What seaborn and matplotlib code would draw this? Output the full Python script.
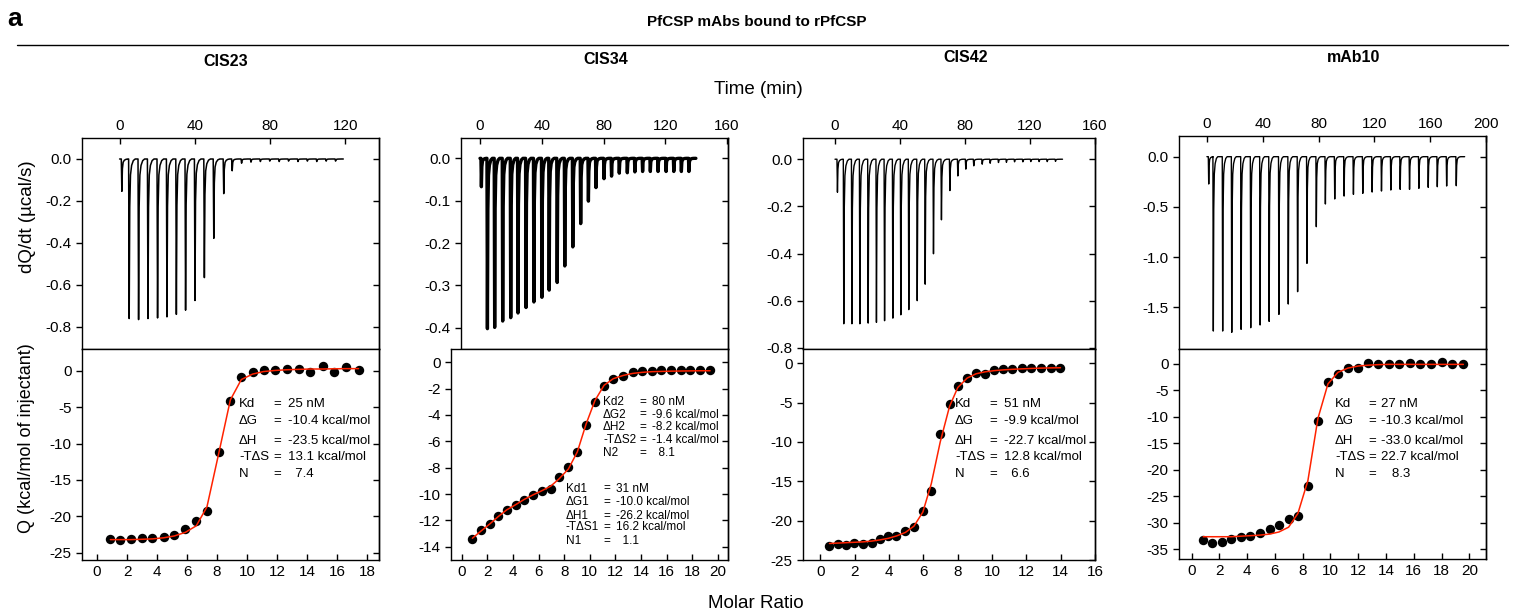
import matplotlib
matplotlib.use('Agg')
import matplotlib.pyplot as plt
from matplotlib.lines import Line2D
import seaborn as sns
import pandas as pd

W, H = 1514, 615

# ---- raw thermograms: injection time (min) and peak depth (ucal/s)
cis23_inj_t = [0.9, 4.8, 9.8, 14.8, 19.9, 24.9, 29.9, 34.8, 39.8, 44.8, 49.8, 55.1,
               59.6, 64.6, 69.6, 74.6, 79.6, 84.6, 89.6, 94.6, 99.6, 104.6, 109.6, 114.6]
cis23_inj_peak = [-0.154, -0.76, -0.765, -0.76, -0.757, -0.752, -0.74, -0.72, -0.674, -0.565,
                  -0.378, -0.165, -0.056, -0.02, -0.015, -0.012, -0.01, -0.012, -0.01, -0.012,
                  -0.01, -0.012, -0.01, -0.01]

cis34_inj_t = [0.6, 4.5, 9.2, 14.4, 19.6, 24.3, 29.5, 34.6, 39.8, 44.5, 49.7, 54.6, 59.8, 64.9,
               69.9, 74.8, 80.0, 84.9, 89.9, 95.1, 100.0, 105.0, 110.0, 115.0, 120.2, 125.2,
               130.1, 135.0]
cis34_inj_peak = [-0.067, -0.402, -0.399, -0.384, -0.376, -0.365, -0.352, -0.339, -0.328, -0.311,
                  -0.293, -0.254, -0.209, -0.154, -0.101, -0.069, -0.048, -0.042, -0.035, -0.034,
                  -0.032, -0.031, -0.031, -0.031, -0.031, -0.031, -0.031, -0.031]

cis42_inj_t = [1.2, 5.1, 10.1, 15.0, 20.1, 25.2, 30.2, 35.3, 40.2, 45.1, 50.3, 55.2, 60.3, 65.2,
               70.4, 75.3, 80.2, 85.1, 90.3, 95.2, 100.3, 105.2, 110.2, 115.3, 120.2, 125.3,
               130.3, 135.4]
cis42_inj_peak = [-0.14, -0.698, -0.698, -0.698, -0.695, -0.692, -0.685, -0.674, -0.66, -0.638,
                  -0.6, -0.53, -0.401, -0.257, -0.133, -0.071, -0.042, -0.028, -0.021, -0.017,
                  -0.014, -0.013, -0.011, -0.011, -0.01, -0.01, -0.01, -0.009]

mab10_inj_t = [1.0, 4.3, 11.0, 17.5, 24.2, 31.1, 37.8, 44.3, 51.3, 58.0, 64.7, 71.4, 78.1, 84.6,
               91.3, 98.0, 104.7, 111.4, 118.1, 124.8, 131.5, 138.2, 144.9, 151.6, 158.3, 164.8,
               171.5, 178.4]
mab10_inj_peak = [-0.272, -1.736, -1.736, -1.749, -1.719, -1.703, -1.676, -1.64, -1.57, -1.467,
                  -1.344, -1.062, -0.697, -0.471, -0.421, -0.392, -0.375, -0.365, -0.352, -0.342,
                  -0.332, -0.325, -0.325, -0.315, -0.305, -0.299, -0.292, -0.289]

# ---- integrated heats: molar ratio, Q (kcal/mol), fitted Q
cis23_ratio = [0.89, 1.55, 2.27, 3.0, 3.69, 4.44, 5.15, 5.89, 6.62, 7.33, 8.11, 8.89, 9.62,
               10.37, 11.1, 11.87, 12.67, 13.44, 14.2, 15.04, 15.82, 16.6, 17.44]
cis23_q = [-23.1, -23.3, -23.1, -23.0, -23.0, -22.8, -22.6, -21.8, -20.6, -19.2, -11.1, -4.2,
           -0.8, -0.2, 0.1, 0.1, 0.2, 0.2, -0.1, 0.6, -0.1, 0.55, 0.1]
cis23_fit = [-23.2, -23.2, -23.2, -23.15, -23.1, -22.95, -22.7, -22.2, -21.3, -18.7, -11.4, -4.0,
             -1.2, -0.45, -0.1, 0.05, 0.15, 0.2, 0.25, 0.25, 0.28, 0.3, 0.3]

cis34_ratio = [0.83, 1.51, 2.21, 2.86, 3.51, 4.22, 4.89, 5.59, 6.25, 6.95, 7.6, 8.33, 9.03, 9.71,
               10.41, 11.12, 11.84, 12.63, 13.36, 14.1, 14.85, 15.57, 16.33, 17.1, 17.85, 18.6, 19.4]
cis34_q = [-13.4, -12.76, -12.25, -11.64, -11.19, -10.81, -10.43, -10.05, -9.8, -9.62, -8.74,
           -7.98, -6.82, -4.8, -3.03, -1.8, -1.29, -1.04, -0.76, -0.7, -0.66, -0.63, -0.63, -0.6,
           -0.6, -0.58, -0.6]
cis34_fit = [-13.35, -12.8, -12.25, -11.7, -11.2, -10.8, -10.4, -10.05, -9.75, -9.4, -8.85, -8.1,
             -6.8, -4.7, -2.9, -1.75, -1.25, -1.0, -0.85, -0.77, -0.72, -0.7, -0.68, -0.67, -0.66,
             -0.65, -0.65]

cis42_ratio = [0.54, 1.02, 1.51, 1.99, 2.47, 2.99, 3.47, 3.96, 4.44, 4.96, 5.46, 5.98, 6.47, 6.99,
               7.53, 8.01, 8.55, 9.07, 9.6, 10.13, 10.67, 11.19, 11.77, 12.3, 12.83, 13.41, 13.99]
cis42_q = [-23.2, -23.0, -23.1, -22.9, -22.95, -22.8, -22.3, -22.0, -21.9, -21.3, -20.8, -18.75,
           -16.2, -9.0, -5.2, -2.84, -1.9, -1.27, -1.4, -0.85, -0.72, -0.72, -0.64, -0.55, -0.55,
           -0.55, -0.55]
cis42_fit = [-22.9, -22.85, -22.8, -22.75, -22.7, -22.6, -22.45, -22.25, -21.95, -21.5, -20.7,
             -18.9, -15.3, -10.0, -5.5, -3.1, -1.9, -1.35, -1.1, -0.95, -0.85, -0.78, -0.72, -0.67,
             -0.63, -0.6, -0.58]

mab10_ratio = [0.84, 1.51, 2.16, 2.87, 3.54, 4.24, 4.91, 5.63, 6.3, 6.99, 7.66, 8.38, 9.1, 9.82,
               10.54, 11.26, 12.02, 12.74, 13.46, 14.2, 14.97, 15.74, 16.48, 17.25, 18.0, 18.75, 19.57]
mab10_q = [-33.3, -33.8, -33.6, -33.1, -32.7, -32.4, -31.9, -31.1, -30.4, -29.3, -28.6, -23.1,
           -10.7, -3.5, -1.9, -0.7, -0.7, 0.1, -0.06, -0.06, 0.0, 0.1, 0.0, -0.06, 0.3, 0.06, -0.06]
mab10_fit = [-32.6, -32.6, -32.6, -32.6, -32.5, -32.4, -32.3, -32.1, -31.7, -30.8, -28.2, -22.0,
             -10.3, -3.8, -1.6, -0.8, -0.4, -0.25, -0.15, -0.1, -0.1, -0.1, -0.1, -0.1, -0.1,
             -0.1, -0.1]

names = ['CIS23', 'CIS34', 'CIS42', 'mAb10']

cis23_params = [('Kd', '25 nM'), ('\u0394G', '-10.4 kcal/mol'), ('\u0394H', '-23.5 kcal/mol'),
                ('-T\u0394S', '13.1 kcal/mol'), ('N', '  7.4')]
cis34_params2 = [('Kd2', '80 nM'), ('\u0394G2', '-9.6 kcal/mol'), ('\u0394H2', '-8.2 kcal/mol'),
                 ('-T\u0394S2', '-1.4 kcal/mol'), ('N2', '  8.1')]
cis34_params1 = [('Kd1', '31 nM'), ('\u0394G1', '-10.0 kcal/mol'), ('\u0394H1', '-26.2 kcal/mol'),
                 ('-T\u0394S1', '16.2 kcal/mol'), ('N1', '  1.1')]
cis42_params = [('Kd', '51 nM'), ('\u0394G', '-9.9 kcal/mol'), ('\u0394H', '-22.7 kcal/mol'),
                ('-T\u0394S', '12.8 kcal/mol'), ('N', '  6.6')]
mab10_params = [('Kd', '27 nM'), ('\u0394G', '-10.3 kcal/mol'), ('\u0394H', '-33.0 kcal/mol'),
                ('-T\u0394S', '22.7 kcal/mol'), ('N', '   8.3')]

# spike template (offset in min, fraction of peak depth)
SHAPE_DT = [0.0, 0.3, 0.6, 1.0, 1.6, 2.5, 3.5]
SHAPE_FR = [0.0, 1.0, 0.3, 0.1, 0.04, 0.01, 0.0]


def thermogram(times, peaks, t_end):
    ts, ys = [0.0], [0.0]
    for t, p in zip(times, peaks):
        for dt, fr in zip(SHAPE_DT, SHAPE_FR):
            ts.append(t + dt)
            ys.append(p * fr)
    ts.append(t_end)
    ys.append(0.0)
    return pd.DataFrame({'t': ts, 'y': ys})


def px_axes(fig, left, right, top, bottom):
    return fig.add_axes([left / W, 1 - bottom / H, (right - left) / W, (bottom - top) / H])


def ftext(fig, x, y, s, **kw):
    kw.setdefault('va', 'center')
    kw.setdefault('color', 'black')
    fig.text(x / W, 1 - y / H, s, **kw)


sns.set_style('ticks')
plt.rcParams['font.family'] = ['Liberation Sans', 'DejaVu Sans']
plt.rcParams['axes.unicode_minus'] = False
plt.rcParams['axes.linewidth'] = 1.0
plt.rcParams['axes.edgecolor'] = 'black'
plt.rcParams['text.color'] = 'black'
plt.rcParams['xtick.color'] = 'black'
plt.rcParams['ytick.color'] = 'black'

fig = plt.figure(figsize=(W / 100, H / 100), dpi=100)

panels = [
    dict(top=(82, 379, 138, 349), bot=(82, 379, 349, 560),
         inj=(cis23_inj_t, cis23_inj_peak, 119), lw=1.1,
         txlim=(-20, 138), txt=[0, 40, 80, 120], tylim=(-0.905, 0.1),
         tyt=[0.0, -0.2, -0.4, -0.6, -0.8], fmt='{:.1f}',
         iso=(cis23_ratio, cis23_q, cis23_fit),
         bxlim=(-1, 18.8), bxt=list(range(0, 19, 2)), bylim=(-26, 3),
         byt=[0, -5, -10, -15, -20, -25]),
    dict(top=(461, 728, 138, 349), bot=(451, 728, 349, 560),
         inj=(cis34_inj_t, cis34_inj_peak, 139.8), lw=2.4,
         txlim=(-12.3, 160.6), txt=[0, 40, 80, 120, 160], tylim=(-0.45, 0.048),
         tyt=[0.0, -0.1, -0.2, -0.3, -0.4], fmt='{:.1f}',
         iso=(cis34_ratio, cis34_q, cis34_fit),
         bxlim=(-0.84, 20.8), bxt=list(range(0, 21, 2)), bylim=(-15, 1),
         byt=list(range(0, -15, -2))),
    dict(top=(803, 1095, 138, 349), bot=(803, 1095, 349, 560),
         inj=(cis42_inj_t, cis42_inj_peak, 140), lw=1.0,
         txlim=(-19.7, 160), txt=[0, 40, 80, 120, 160], tylim=(-0.805, 0.09),
         tyt=[0.0, -0.2, -0.4, -0.6, -0.8], fmt='{:.1f}',
         iso=(cis42_ratio, cis42_q, cis42_fit),
         bxlim=(-1, 16), bxt=list(range(0, 17, 2)), bylim=(-25, 1.8),
         byt=[0, -5, -10, -15, -20, -25]),
    dict(top=(1179, 1486, 136, 349), bot=(1179, 1486, 349, 559),
         inj=(mab10_inj_t, mab10_inj_peak, 184.7), lw=1.0,
         txlim=(-20, 200), txt=[0, 40, 80, 120, 160, 200], tylim=(-1.915, 0.206),
         tyt=[0.0, -0.5, -1.0, -1.5], fmt='{:.1f}',
         iso=(mab10_ratio, mab10_q, mab10_fit),
         bxlim=(-0.9, 21.2), bxt=list(range(0, 21, 2)), bylim=(-36.8, 2.8),
         byt=[0, -5, -10, -15, -20, -25, -30, -35]),
]

TICK = dict(length=4, width=1, labelsize=11, colors='black')

for p in panels:
    # thermogram
    ax = px_axes(fig, *p['top'])
    df = thermogram(*p['inj'])
    sns.lineplot(data=df, x='t', y='y', sort=False, estimator=None, color='black',
                 lw=p['lw'], ax=ax)
    ax.set_xlim(*p['txlim'])
    ax.set_ylim(*p['tylim'])
    ax.set_xticks(p['txt'])
    ax.set_yticks(p['tyt'])
    ax.set_yticklabels([p['fmt'].format(v) for v in p['tyt']])
    ax.xaxis.tick_top()
    ax.tick_params(axis='x', direction='in', top=True, bottom=False, labeltop=True,
                   labelbottom=False, **TICK)
    ax.tick_params(axis='y', direction='out', left=True, right=False, **TICK)
    ax.set_xlabel('')
    ax.set_ylabel('')
    sec = ax.secondary_yaxis('right')
    sec.set_yticks(p['tyt'])
    sec.set_yticklabels([])
    sec.tick_params(axis='y', direction='in', length=4, width=1, colors='black')

    # isotherm
    bx = px_axes(fig, *p['bot'])
    ratio, q, fit = p['iso']
    iso = pd.DataFrame({'ratio': ratio, 'q': q, 'fit': fit})
    sns.scatterplot(data=iso, x='ratio', y='q', color='black', s=46, edgecolor='black',
                    linewidth=0, ax=bx, zorder=2)
    sns.lineplot(data=iso, x='ratio', y='fit', color='#ff2200', lw=1.1, sort=False,
                 estimator=None, ax=bx, zorder=3)
    bx.set_xlim(*p['bxlim'])
    bx.set_ylim(*p['bylim'])
    bx.set_xticks(p['bxt'])
    bx.set_yticks(p['byt'])
    bx.tick_params(axis='x', direction='in', top=False, bottom=True, **TICK)
    bx.tick_params(axis='y', direction='out', left=True, right=False, **TICK)
    bx.set_xlabel('')
    bx.set_ylabel('')
    sec2 = bx.secondary_yaxis('right')
    sec2.set_yticks(p['byt'])
    sec2.set_yticklabels([])
    sec2.tick_params(axis='y', direction='in', length=4, width=1, colors='black')


def param_block(params, x_lab, x_eq, x_val, rows, size):
    for (lab, val), y in zip(params, rows):
        ftext(fig, x_lab, y, lab, fontsize=size)
        ftext(fig, x_eq, y, '=', fontsize=size)
        ftext(fig, x_val, y, val, fontsize=size)


param_block(cis23_params, 239, 273, 288, [404, 421, 441, 457, 474], 9.5)
param_block(cis34_params2, 603, 639, 652.5, [401.7, 414.5, 427.5, 440.2, 452.8], 8.5)
param_block(cis34_params1, 566, 603, 615.5, [488.5, 501.7, 515.8, 527.5, 541], 8.5)
param_block(cis42_params, 955, 989, 1004, [404, 421, 441, 456.7, 474.3], 9.5)
param_block(mab10_params, 1335, 1368, 1380.7, [404, 421, 440.7, 456.7, 474.3], 9.5)

# headers and shared labels
ftext(fig, 7, 19, 'a', fontsize=19, fontweight='bold', ha='left')
ftext(fig, 757, 22, 'PfCSP mAbs bound to rPfCSP', fontsize=11, fontweight='bold', ha='center')
fig.add_artist(Line2D([17 / W, 1508 / W], [1 - 45 / H, 1 - 45 / H], color='black', lw=1.0))
for name, x, y in zip(names, [226, 606, 966, 1354], [62, 60, 58, 58]):
    ftext(fig, x, y, name, fontsize=11.5, fontweight='bold', ha='center')
ftext(fig, 758, 89, 'Time (min)', fontsize=13.5, ha='center')
ftext(fig, 756, 604, 'Molar Ratio', fontsize=13.5, ha='center')
ftext(fig, 27, 217, 'dQ/dt (\u00b5cal/s)', fontsize=13.5, ha='center', rotation=90)
ftext(fig, 27, 438, 'Q (kcal/mol of injectant)', fontsize=13, ha='center', rotation=90)

fig.savefig('out.png', dpi=100)
